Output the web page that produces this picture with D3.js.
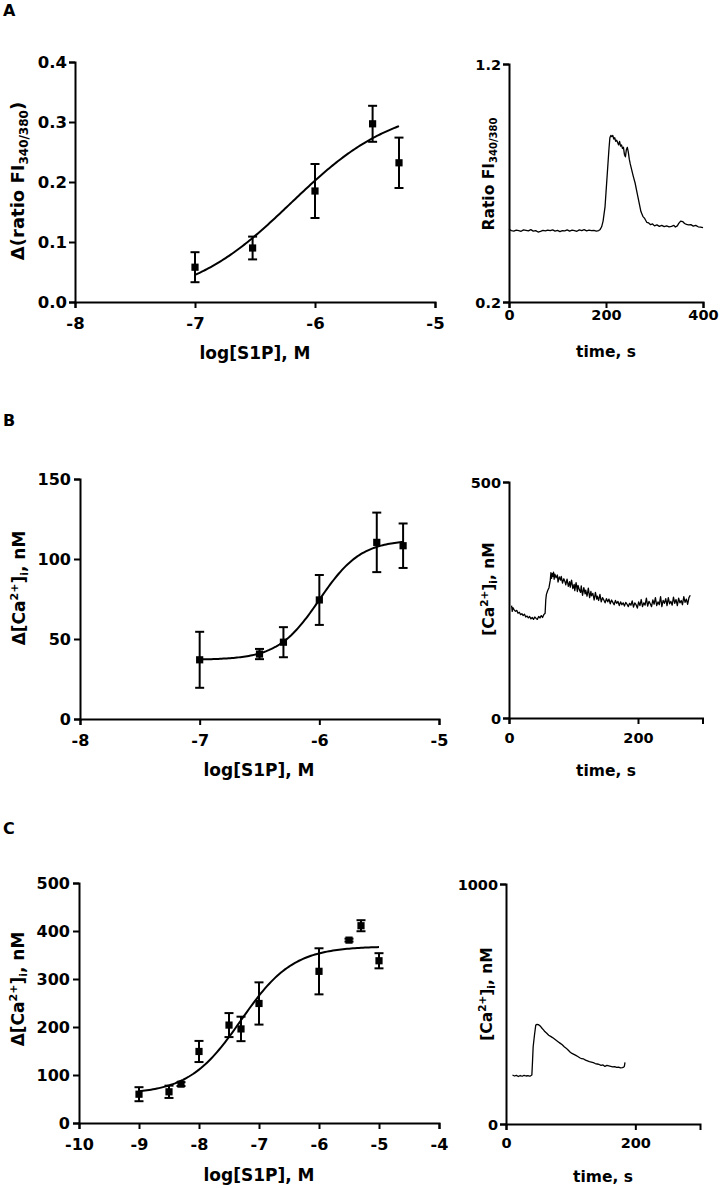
<!DOCTYPE html>
<html><head><meta charset="utf-8">
<script src="https://cdn.jsdelivr.net/npm/d3@7"></script>
<style>
html,body{margin:0;padding:0;background:#fff;}
svg text{font-family:"DejaVu Sans",sans-serif;font-weight:bold;fill:#000;}
</style></head>
<body>
<svg id="chart" width="720" height="1188"></svg>
<script>
// ---------------- DATA ----------------
// Panel A – dose response (log[S1P], M vs Δ ratio)
const doseA_x = [-7, -6.52, -6, -5.52, -5.3];
const doseA_y = [0.058, 0.090, 0.185, 0.297, 0.232];
const doseA_err = [0.025, 0.019, 0.045, 0.030, 0.042];
const fitA = [0, 0.33, -6.2, 1.0];           // bottom, top, logEC50, hill
const ticksA_x = [-8, -7, -6, -5];
const ticksA_y = [0.0, 0.1, 0.2, 0.3, 0.4];

// Panel A – trace (time, s vs ratio)
const traceA_t = [0,5,10,15,20,25,30,35,40,45,50,55,60,65,70,75,80,85,90,95,100,105,110,115,120,125,130,135,140,145,150,155,160,165,170,175,180,185,188,191,194,196,198,200,202,204,206,208,210,212,214,216,218,220,222,224,226,228,230,232,234,236,238,240,242,244,246,248,250,253,256,260,264,268,272,276,280,284,288,292,296,300,305,310,315,320,325,330,335,340,343,347,350,354,358,362,366,370,375,380,385,390,395,400];
const traceA_v = [0.505,0.500,0.498,0.502,0.500,0.497,0.503,0.501,0.499,0.504,0.498,0.500,0.494,0.497,0.501,0.499,0.502,0.500,0.503,0.498,0.501,0.496,0.500,0.499,0.503,0.498,0.502,0.500,0.497,0.503,0.500,0.504,0.499,0.502,0.500,0.501,0.498,0.500,0.505,0.516,0.540,0.570,0.600,0.660,0.720,0.780,0.840,0.890,0.900,0.895,0.900,0.885,0.890,0.875,0.880,0.870,0.860,0.875,0.855,0.860,0.845,0.850,0.820,0.810,0.840,0.850,0.830,0.800,0.780,0.755,0.730,0.700,0.660,0.620,0.580,0.560,0.550,0.535,0.532,0.525,0.528,0.520,0.524,0.518,0.522,0.517,0.520,0.516,0.518,0.522,0.515,0.520,0.530,0.540,0.538,0.530,0.526,0.524,0.525,0.519,0.522,0.516,0.515,0.512];
const ticksA2_x = [0, 200, 400];
const ticksA2_y = [0.2, 1.2];

// Panel B – dose response
const doseB_x = [-7, -6.5, -6.3, -6, -5.52, -5.3];
const doseB_y = [37, 40.6, 48, 74.4, 110.4, 108.3];
const doseB_err = [17.5, 3.2, 9.4, 15.6, 18.6, 13.9];
const fitB = [37, 112, -6.0, 2.5];
const ticksB_x = [-8, -7, -6, -5];
const ticksB_y = [0, 50, 100, 150];

// Panel B – trace
const traceB_t = [4,5,6,8,10,12,14,16,18,20,22,24,26,28,30,32,34,36,38,40,42,44,46,48,50,52,54,56,57,58,59,60,62,64,65,66,67,68,69,70,71,73,75,76,78,80,81,83,85,87,88,90,92,94,95,97,99,101,102,104,106,107,109,111,112,114,116,118,119,121,123,125,127,128,130,132,134,136,137,139,141,143,145,147,149,151,153,155,157,159,161,163,165,167,169,171,173,175,177,179,181,183,185,187,189,191,193,195,197,199,201,203,205,207,209,211,213,215,217,219,221,223,225,227,229,231,233,235,237,239,241,243,245,247,249,251,253,255,257,259,261,263,265,267,269,271,273,275,277,279,281];
const traceB_v = [238,226,234,229,226,228,222,224,219,221,217,220,214,216,212,215,210,213,209,214,211,209,215,212,217,213,219,222,250,262,266,270,276,292,308,296,306,300,309,294,305,297,303,288,299,292,300,286,295,288,282,294,279,289,277,292,274,283,270,287,268,281,272,266,280,260,276,263,271,258,275,255,268,259,264,250,266,252,258,249,262,246,255,250,244,253,246,252,242,250,245,240,249,243,247,238,246,240,244,237,245,241,236,243,239,248,235,244,240,233,246,238,251,236,244,239,254,237,247,242,236,250,241,255,238,246,240,257,236,249,243,253,238,255,242,247,239,256,243,251,238,254,244,249,240,257,245,252,241,255,260];
const ticksB2_x = [0, 200];
const ticksB2_y = [0, 500];

// Panel C – dose response
const doseC_x = [-9, -8.5, -8.3, -8, -7.5, -7.3, -7, -6, -5.5, -5.3, -5];
const doseC_y = [60, 65, 81, 149, 204, 196, 249, 316, 381, 411, 338];
const doseC_err = [14.6, 12.8, 4, 22, 25, 25.5, 44, 48, 3, 11.5, 15.8];
const fitC = [60, 368, -7.3, 1.0];
const ticksC_x = [-10, -9, -8, -7, -6, -5, -4];
const ticksC_y = [0, 100, 200, 300, 400, 500];

// Panel C – trace
const traceC_t = [10,13,16,19,22,25,28,31,34,37,40,41,42,44,46,48,50,52,54,56,58,60,63,66,69,72,75,78,81,84,87,90,93,96,99,102,105,108,111,114,117,120,123,126,129,132,135,138,141,144,147,150,153,156,159,162,165,168,171,174,177,180,182,183,184];
const traceC_v = [204,200,203,198,202,199,203,200,202,199,204,260,322,370,412,415,414,410,405,398,392,385,378,370,365,360,354,348,342,336,330,322,316,308,300,294,290,286,281,276,272,271,266,263,260,258,256,252,250,248,244,246,240,244,242,240,238,239,236,237,234,235,237,240,257];
const ticksC2_x = [0, 200];
const ticksC2_y = [0, 1000];

// ---------------- DRAWING ----------------
const svg = d3.select("#chart");
const plainInt = d => String(d);               // hyphen-minus like the original
const oneDec = d => d.toFixed(1);

function styleAxis(g, fs) {
  g.select(".domain").attr("stroke", "#000").attr("stroke-width", 2);
  g.selectAll(".tick line").attr("stroke", "#000").attr("stroke-width", 2);
  g.selectAll(".tick text").style("font-size", fs + "px").attr("fill", "#000");
}

function drawAxes(p) {
  const x = d3.scaleLinear().domain(p.xdom).range([p.left, p.right]);
  const y = d3.scaleLinear().domain(p.ydom).range([p.bottom, p.top]);
  const gx = svg.append("g").attr("transform", `translate(0,${p.bottom})`)
    .call(d3.axisBottom(x).tickValues(p.xticks).tickSizeOuter(0).tickSize(6).tickPadding(p.xpad)
      .tickFormat(p.xfmt || plainInt));
  styleAxis(gx, p.tfs);
  const gy = svg.append("g").attr("transform", `translate(${p.left},0)`)
    .call(d3.axisLeft(y).tickValues(p.yticks).tickSizeOuter(0).tickSize(6).tickPadding(p.ypad)
      .tickFormat(p.yfmt || plainInt));
  styleAxis(gy, p.tfs);
  gx.selectAll(".tick text").attr("dy", "0.72em");
  gy.selectAll(".tick text").attr("dy", "0.36em");
  return {x, y};
}

function drawDose(p, xs, ys, errs, fit) {
  const {x, y} = drawAxes(p);
  const g = svg.append("g");
  const [bot, top, ec, hill] = fit;
  const lo = d3.min(xs), hi = d3.max(xs);
  const pts = d3.range(0, 121).map(i => {
    const xv = lo + (hi - lo) * i / 120;
    return [xv, bot + (top - bot) / (1 + Math.pow(10, (ec - xv) * hill))];
  });
  g.append("path").attr("d", d3.line().x(d => x(d[0])).y(d => y(d[1]))(pts))
    .attr("fill", "none").attr("stroke", "#000").attr("stroke-width", 2);
  xs.forEach((xv, i) => {
    const cx = x(xv), y1 = y(ys[i] + errs[i]), y2 = y(ys[i] - errs[i]);
    g.append("line").attr("x1", cx).attr("x2", cx).attr("y1", y1).attr("y2", y2)
      .attr("stroke", "#000").attr("stroke-width", 2);
    [y1, y2].forEach(yy => g.append("line").attr("x1", cx - 4.5).attr("x2", cx + 4.5)
      .attr("y1", yy).attr("y2", yy).attr("stroke", "#000").attr("stroke-width", 2));
    g.append("rect").attr("x", cx - 3.6).attr("y", y(ys[i]) - 3.6)
      .attr("width", 7.2).attr("height", 7.2).attr("fill", "#000");
  });
}

function drawTrace(p, ts, vs) {
  const {x, y} = drawAxes(p);
  svg.append("path").attr("d", d3.line().x((d, i) => x(ts[i])).y((d, i) => y(vs[i]))(ts))
    .attr("fill", "none").attr("stroke", "#000").attr("stroke-width", 1.3)
    .attr("stroke-linejoin", "round");
}

function xTitle(txt, cx, by, fs) {
  svg.append("text").attr("x", cx).attr("y", by).attr("text-anchor", "middle")
    .style("font-size", fs + "px").text(txt);
}

function yTitle(parts, bx, cy) {
  const t = svg.append("text").attr("transform", `translate(${bx},${cy}) rotate(-90)`)
    .attr("text-anchor", "middle");
  parts.forEach(pt => {
    const s = t.append("tspan").style("font-size", pt.fs + "px").text(pt.t);
    if (pt.dy) s.attr("dy", pt.dy);
  });
}

function letter(txt, x, y) {
  svg.append("text").attr("x", x).attr("y", y).style("font-size", "16px").text(txt);
}

// ---------- Panel A ----------
letter("A", 3, 16);
drawDose({left: 75, right: 435, top: 62, bottom: 302, xdom: [-8, -5], ydom: [0, 0.4],
  xticks: ticksA_x, yticks: ticksA_y, yfmt: oneDec, tfs: 16.5, xpad: 9, ypad: 2},
  doseA_x, doseA_y, doseA_err, fitA);
xTitle("log[S1P], M", 255, 359, 17);
yTitle([{t: "Δ(ratio FI", fs: 18}, {t: "340/380", fs: 12, dy: "4"}, {t: ")", fs: 18, dy: "-4"}], 24, 181);

drawTrace({left: 509, right: 703, top: 64, bottom: 302, xdom: [0, 400], ydom: [0.2, 1.2],
  xticks: ticksA2_x, yticks: ticksA2_y, yfmt: oneDec, tfs: 14.5, xpad: 2, ypad: 2},
  traceA_t, traceA_v);
xTitle("time, s", 606, 357, 15.5);
yTitle([{t: "Ratio FI", fs: 15.5}, {t: "340/380", fs: 10, dy: "3"}], 494, 174);

// ---------- Panel B ----------
letter("B", 3, 426);
drawDose({left: 80, right: 439, top: 479, bottom: 719, xdom: [-8, -5], ydom: [0, 150],
  xticks: ticksB_x, yticks: ticksB_y, tfs: 16, xpad: 9, ypad: 3},
  doseB_x, doseB_y, doseB_err, fitB);
xTitle("log[S1P], M", 259, 776, 17);
yTitle([{t: "Δ[Ca", fs: 17}, {t: "2+", fs: 11, dy: "-7"}, {t: "]", fs: 17, dy: "7"},
  {t: "i", fs: 11, dy: "3"}, {t: ", nM", fs: 17, dy: "-3"}], 25, 588);

drawTrace({left: 509, right: 702.5, top: 482, bottom: 718, xdom: [0, 300], ydom: [0, 500],
  xticks: ticksB2_x, yticks: ticksB2_y, tfs: 14.5, xpad: 9, ypad: 2},
  traceB_t, traceB_v);
xTitle("time, s", 606, 776, 15.5);
yTitle([{t: "[Ca", fs: 15.5}, {t: "2+", fs: 10.5, dy: "-6"}, {t: "]", fs: 15.5, dy: "6"},
  {t: "i", fs: 10.5, dy: "3"}, {t: ", nM", fs: 15.5, dy: "-3"}], 494, 589);

// ---------- Panel C ----------
letter("C", 3, 834);
drawDose({left: 79, right: 439, top: 883, bottom: 1123, xdom: [-10, -4], ydom: [0, 500],
  xticks: ticksC_x, yticks: ticksC_y, tfs: 16, xpad: 9, ypad: 3},
  doseC_x, doseC_y, doseC_err, fitC);
xTitle("log[S1P], M", 259, 1181, 17);
yTitle([{t: "Δ[Ca", fs: 17}, {t: "2+", fs: 11, dy: "-7"}, {t: "]", fs: 17, dy: "7"},
  {t: "i", fs: 11, dy: "3"}, {t: ", nM", fs: 17, dy: "-3"}], 24, 989);

drawTrace({left: 506, right: 700, top: 884, bottom: 1124, xdom: [0, 300], ydom: [0, 1000],
  xticks: ticksC2_x, yticks: ticksC2_y, tfs: 14.5, xpad: 8, ypad: 2},
  traceC_t, traceC_v);
xTitle("time, s", 603, 1182, 15.5);
yTitle([{t: "[Ca", fs: 15.5}, {t: "2+", fs: 10.5, dy: "-6"}, {t: "]", fs: 15.5, dy: "6"},
  {t: "i", fs: 10.5, dy: "3"}, {t: ", nM", fs: 15.5, dy: "-3"}], 492, 994);
</script>
</body></html>
